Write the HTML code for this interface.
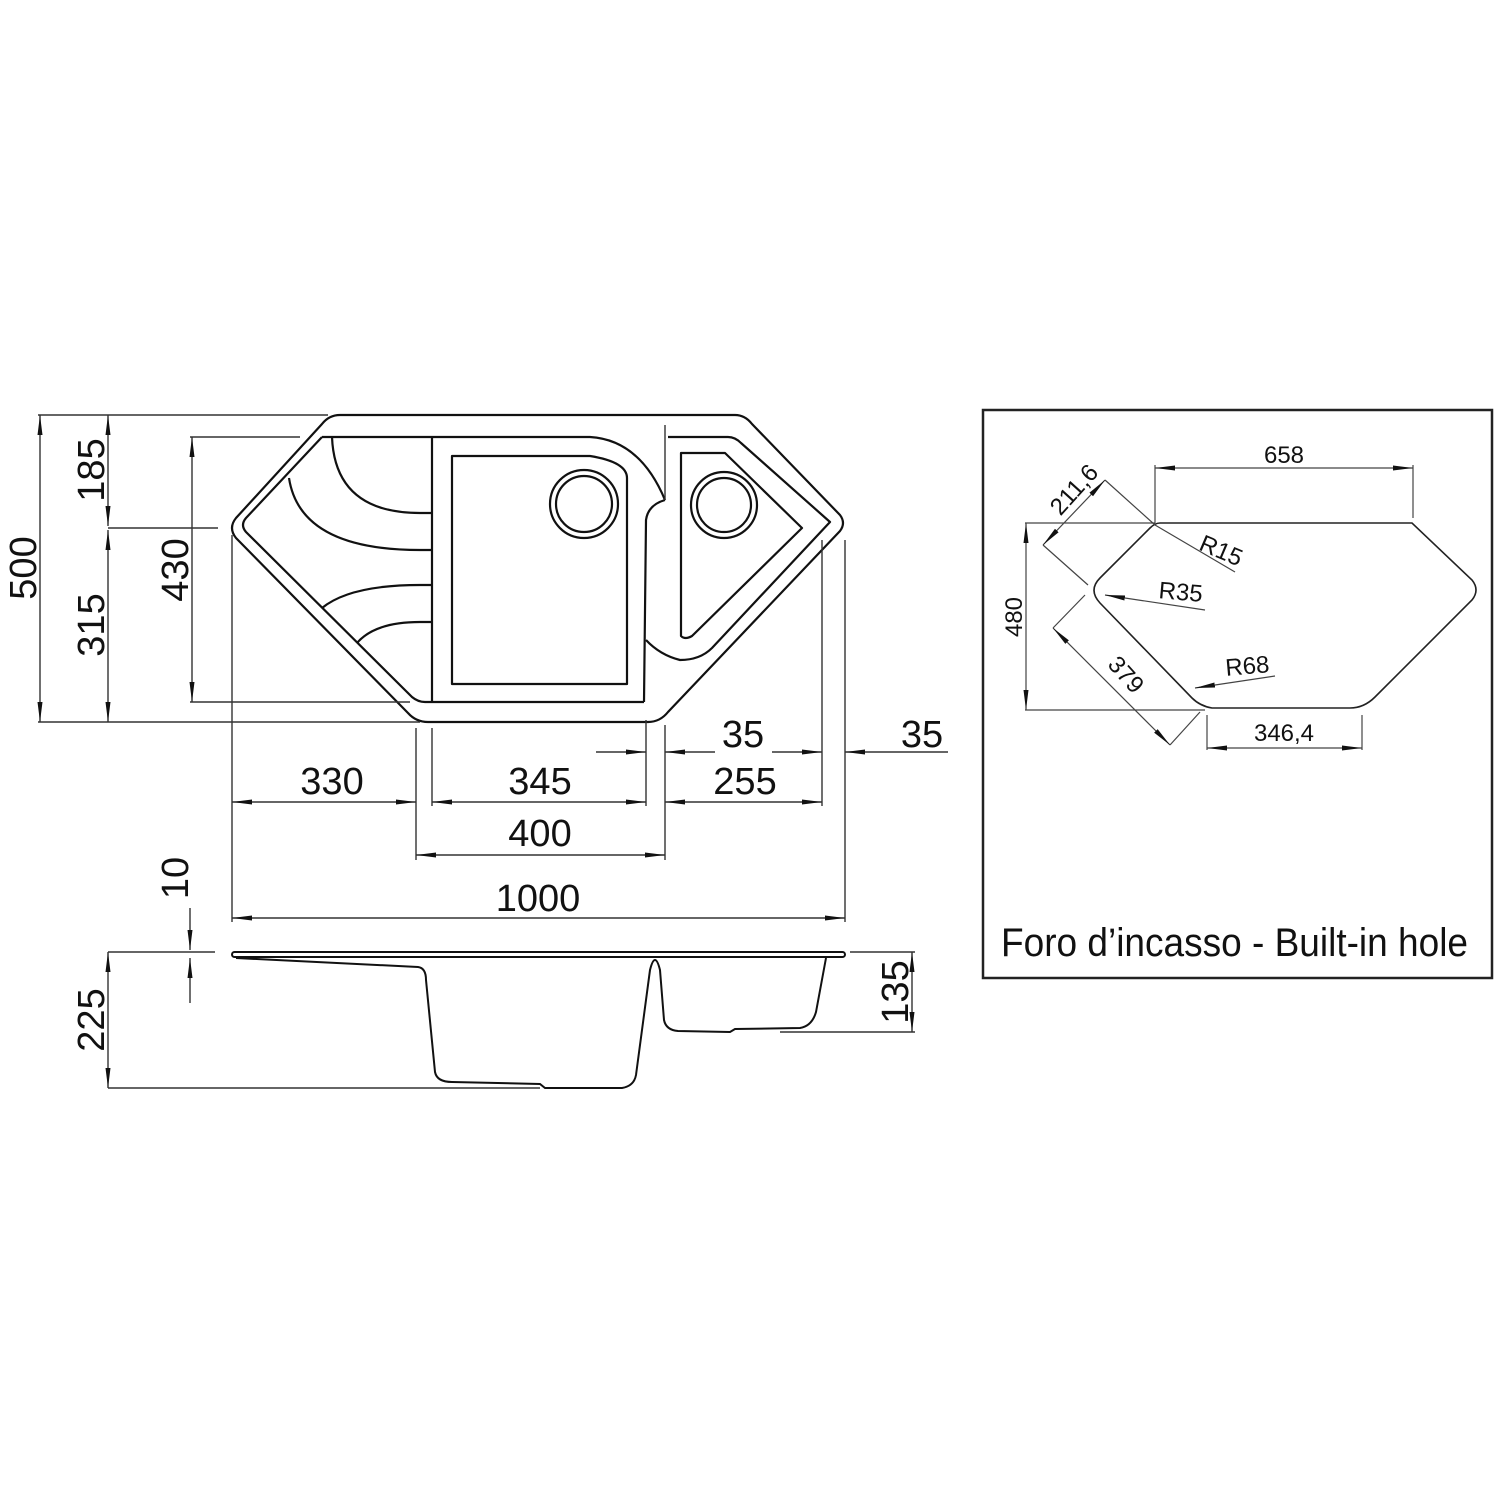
<!DOCTYPE html>
<html><head><style>body{margin:0;background:#fff}svg{display:block}</style></head><body>
<svg width="1500" height="1500" viewBox="0 0 1500 1500" xmlns="http://www.w3.org/2000/svg" font-family="Liberation Sans, sans-serif">
<defs>
<marker id="a" viewBox="0 0 20 8" refX="20" refY="4" markerWidth="20" markerHeight="8" markerUnits="userSpaceOnUse" orient="auto-start-reverse"><path d="M0,1.5 L20,4 L0,6.5z" fill="#111"/></marker>
</defs>
<g fill="none" stroke="#111" stroke-width="2.2" stroke-linejoin="round">
<path d="M340,415 L735,415 Q745,415 752,424 L840,515 Q846,523 840,531 L668,712 Q660,722 648,722 L428,722 Q416,722 408,713 L236,538 Q228,528 236,518 L322,424 Q329,415 340,415Z"/>
<path d="M322,437 L590,437 Q640,440 665,500"/>
<path d="M322,437 L246,518 Q240,525 246,532 L412,697 Q418,702 425,702 L644,702"/>
<path d="M644,702 L646,520 Q648,505 665,500" />
<line x1="432" y1="437" x2="432" y2="702"/>
<path d="M452,456 L590,456 Q627,462 627,478 L627,684 L452,684 Z"/>
<circle cx="584" cy="504" r="34"/><circle cx="584" cy="504" r="28"/>
<path d="M332,437 Q335,513 420,513 L432,513"/>
<path d="M289,478 Q300,550 420,550 L432,550"/>
<path d="M322,608 Q350,585 420,585 L432,585"/>
<path d="M357,643 Q375,622 420,622 L432,622"/>
<path d="M668,437 L728,437 Q735,437 741,443 L830,522 L712,648 Q700,660 680,660 Q660,655 646,640"/>
<path d="M681,453 L725,453 L802,528 L692,636 Q685,640 681,636 Z"/>
<circle cx="724" cy="505" r="33"/><circle cx="724" cy="505" r="27"/>
</g>
<g stroke="#333" stroke-width="1.4" fill="none">
<line x1="38" y1="415" x2="328" y2="415"/>
<line x1="190" y1="437" x2="300" y2="437"/>
<line x1="108" y1="528" x2="218" y2="528"/>
<line x1="190" y1="702" x2="410" y2="702"/>
<line x1="38" y1="722" x2="420" y2="722"/>
<line x1="40" y1="415" x2="40" y2="722" marker-start="url(#a)" marker-end="url(#a)"/>
<line x1="108" y1="415" x2="108" y2="526" marker-start="url(#a)" marker-end="url(#a)"/>
<line x1="108" y1="530" x2="108" y2="722" marker-start="url(#a)" marker-end="url(#a)"/>
<line x1="192" y1="437" x2="192" y2="702" marker-start="url(#a)" marker-end="url(#a)"/>
<line x1="232" y1="535" x2="232" y2="922"/>
<line x1="416" y1="728" x2="416" y2="860"/>
<line x1="432" y1="728" x2="432" y2="806"/>
<line x1="646" y1="720" x2="646" y2="806"/>
<line x1="665" y1="425" x2="665" y2="500"/>
<line x1="665" y1="725" x2="665" y2="860"/>
<line x1="822" y1="540" x2="822" y2="806"/>
<line x1="845" y1="540" x2="845" y2="922"/>
<line x1="232" y1="802" x2="416" y2="802" marker-start="url(#a)" marker-end="url(#a)"/>
<line x1="432" y1="802" x2="646" y2="802" marker-start="url(#a)" marker-end="url(#a)"/>
<line x1="665" y1="802" x2="822" y2="802" marker-start="url(#a)" marker-end="url(#a)"/>
<line x1="416" y1="855" x2="665" y2="855" marker-start="url(#a)" marker-end="url(#a)"/>
<line x1="232" y1="918" x2="845" y2="918" marker-start="url(#a)" marker-end="url(#a)"/>
<line x1="596" y1="752" x2="646" y2="752" marker-end="url(#a)"/>
<line x1="715" y1="752" x2="665" y2="752" marker-end="url(#a)"/>
<line x1="772" y1="752" x2="822" y2="752" marker-end="url(#a)"/>
<line x1="948" y1="752" x2="845" y2="752" marker-end="url(#a)"/>
<line x1="108" y1="952" x2="215" y2="952"/>
<line x1="108" y1="1088" x2="540" y2="1088"/>
<line x1="780" y1="1032" x2="915" y2="1032"/>
<line x1="850" y1="952" x2="915" y2="952"/>
<line x1="108" y1="952" x2="108" y2="1088" marker-start="url(#a)" marker-end="url(#a)"/>
<line x1="912" y1="952" x2="912" y2="1032" marker-start="url(#a)" marker-end="url(#a)"/>
<line x1="190" y1="908" x2="190" y2="950" marker-end="url(#a)"/>
<line x1="190" y1="1003" x2="190" y2="958" marker-end="url(#a)"/>
</g>
<g fill="none" stroke="#111" stroke-width="2">
<rect x="232" y="952" width="613" height="5" rx="2.5"/>
<path d="M236,958 L418,967 Q426,968 426,980 L435,1072 Q437,1082 452,1082 L540,1084 L545,1088 L622,1088 Q634,1086 636,1075 L650,970 Q655,950 660,970 L664,1020 Q666,1030 678,1031 L730,1032 L735,1029 L800,1028 Q812,1026 816,1012 L826,958"/>
</g>
<g fill="#111" font-size="38" text-anchor="middle">
<text transform="translate(36,568) rotate(-90)">500</text>
<text transform="translate(104,470) rotate(-90)">185</text>
<text transform="translate(104,625) rotate(-90)">315</text>
<text transform="translate(188,570) rotate(-90)">430</text>
<text transform="translate(188,878) rotate(-90)">10</text>
<text transform="translate(104,1020) rotate(-90)">225</text>
<text transform="translate(908,992) rotate(-90)">135</text>
<text x="332" y="794">330</text>
<text x="540" y="794">345</text>
<text x="745" y="794">255</text>
<text x="540" y="846">400</text>
<text x="538" y="911">1000</text>
<text x="743" y="747">35</text>
<text x="922" y="747">35</text>
</g>
<rect x="983" y="410" width="509" height="568" fill="none" stroke="#222" stroke-width="2.5"/>
<g fill="none" stroke="#222" stroke-width="1.6">
<path d="M1160,523 L1412,523 L1472,580 Q1480,590 1472,600 L1375,697 Q1364,708 1350,708 L1212,708 Q1200,706 1192,698 L1100,603 Q1088,590 1100,578 L1150,528 Q1155,523 1160,523Z"/>
</g>
<g fill="none" stroke="#444" stroke-width="1.2">
<line x1="1155" y1="465" x2="1155" y2="523"/><line x1="1413" y1="465" x2="1413" y2="518"/>
<line x1="1155" y1="468" x2="1413" y2="468" marker-start="url(#a)" marker-end="url(#a)"/>
<line x1="1025" y1="523" x2="1155" y2="523"/><line x1="1025" y1="710" x2="1205" y2="710"/>
<line x1="1026" y1="523" x2="1026" y2="710" marker-start="url(#a)" marker-end="url(#a)"/>
<line x1="1207" y1="715" x2="1207" y2="750"/><line x1="1362" y1="715" x2="1362" y2="750"/>
<line x1="1207" y1="748" x2="1362" y2="748" marker-start="url(#a)" marker-end="url(#a)"/>
<line x1="1105" y1="480" x2="1155" y2="525"/><line x1="1043" y1="545" x2="1088" y2="585"/>
<line x1="1105" y1="480" x2="1043" y2="545" marker-start="url(#a)" marker-end="url(#a)"/>
<line x1="1085" y1="595" x2="1053" y2="628"/><line x1="1200" y1="712" x2="1170" y2="745"/>
<line x1="1053" y1="628" x2="1170" y2="745" marker-start="url(#a)" marker-end="url(#a)"/>
<line x1="1155" y1="525" x2="1235" y2="572"/>
<line x1="1105" y1="595" x2="1205" y2="610" marker-start="url(#a)"/>
<line x1="1195" y1="688" x2="1275" y2="676" marker-start="url(#a)"/>
</g>
<g fill="#111" font-size="24" text-anchor="middle">
<text x="1284" y="463">658</text>
<text x="1284" y="741">346,4</text>
<text transform="translate(1022,617) rotate(-90)">480</text>
<text transform="translate(1080,495) rotate(-48)">211,6</text>
<text transform="translate(1120,680) rotate(48)">379</text>
<text transform="translate(1218,558) rotate(23)">R15</text>
<text transform="translate(1180,600) rotate(5)">R35</text>
<text x="1248" y="674" transform="rotate(-5 1248 674)">R68</text>
</g>
<text x="1001" y="956" font-size="40" textLength="467" lengthAdjust="spacingAndGlyphs" fill="#111">Foro d’incasso - Built-in hole</text>
</svg>
</body></html>
